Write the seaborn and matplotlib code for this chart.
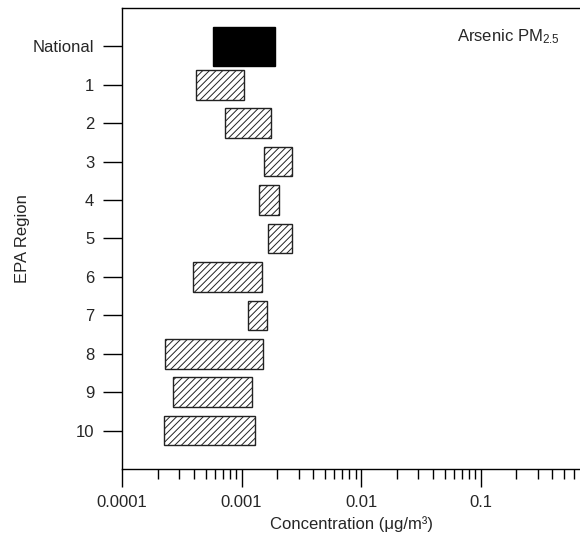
import matplotlib
matplotlib.use("Agg")
import matplotlib.pyplot as plt
import seaborn as sns
import numpy as np
from matplotlib.ticker import LogLocator, NullFormatter, FixedLocator, FixedFormatter

regions = ["National", "1", "2", "3", "4", "5", "6", "7", "8", "9", "10"]
low = [0.000579, 0.000417, 0.000730, 0.00155, 0.001406, 0.00167,
       0.000394, 0.001133, 0.000229, 0.000266, 0.000225]
high = [0.00191, 0.001054, 0.001775, 0.00266, 0.00207, 0.00266,
        0.00148, 0.001634, 0.00151, 0.001222, 0.001294]
xticks = [0.0001, 0.001, 0.01, 0.1]
xticklabels = ["0.0001", "0.001", "0.01", "0.1"]

sns.set_theme(style="white")
plt.rcParams['font.family'] = ['Liberation Sans', 'DejaVu Sans']
plt.rcParams['hatch.linewidth'] = 0.7
plt.rcParams['mathtext.fontset'] = 'custom'
plt.rcParams['mathtext.rm'] = 'Liberation Sans'
plt.rcParams['mathtext.it'] = 'Liberation Sans'

fig = plt.figure(figsize=(5.8, 5.33), dpi=100)
ax = fig.add_axes([122/580, 1 - 469/533, 1 - 122/580, (469 - 8)/533])

pos = np.arange(len(regions))
widths = np.array(high) - np.array(low)
for i, r in enumerate(regions):
    if r == "National":
        ax.barh(pos[i], widths[i], left=low[i], height=1.0, color="black",
                edgecolor="black", linewidth=1)
    else:
        ax.barh(pos[i], widths[i], left=low[i], height=0.77, color="white",
                edgecolor="#222222", linewidth=1, hatch="/////")

ax.set_xscale("log")
ax.set_xlim(0.0001, 0.68)
ax.set_ylim(11, -1)
ax.set_yticks(pos)
ax.set_yticklabels(regions)
ax.xaxis.set_major_locator(FixedLocator(xticks))
ax.xaxis.set_major_formatter(FixedFormatter(xticklabels))
ax.xaxis.set_minor_locator(LogLocator(base=10, subs=np.arange(2, 10)))
ax.xaxis.set_minor_formatter(NullFormatter())

for s in ["left", "bottom", "top"]:
    ax.spines[s].set_visible(True)
    ax.spines[s].set_color("black")
    ax.spines[s].set_linewidth(1.0)
ax.spines["right"].set_visible(False)

ax.tick_params(axis="y", which="major", direction="out", length=14, width=1,
               color="black", labelsize=12, pad=6, left=True)
ax.tick_params(axis="x", which="major", direction="out", length=13, width=1,
               color="black", labelsize=12, pad=6, bottom=True)
ax.tick_params(axis="x", which="minor", direction="out", length=7, width=1,
               color="black", bottom=True)
ax.tick_params(axis="x", which="both", top=False)

ax.set_xlabel("Concentration (\u03bcg/m\u00b3)", fontsize=12, labelpad=4)
ax.set_ylabel("EPA Region", fontsize=12, labelpad=2)
ax.text(0.731, 0.937, "Arsenic PM$_{2.5}$", transform=ax.transAxes,
        ha="left", va="center", fontsize=12)

fig.savefig("out.png", dpi=100)
